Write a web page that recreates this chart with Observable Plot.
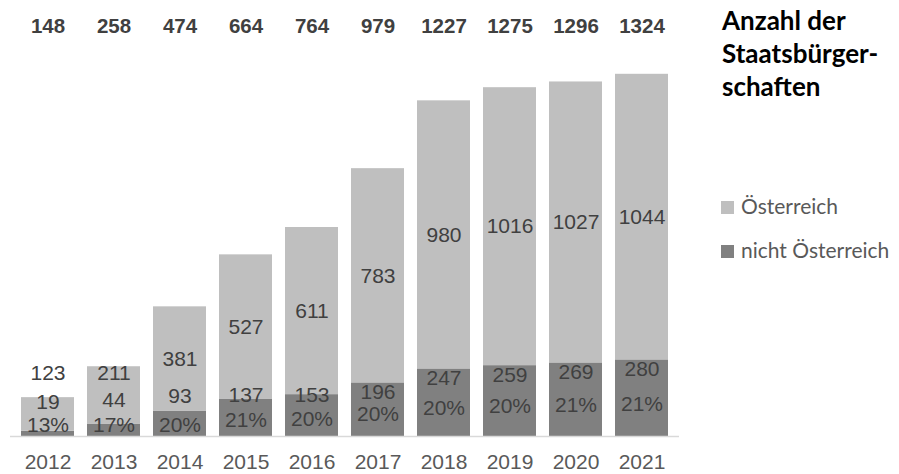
<!DOCTYPE html>
<html>
<head>
<meta charset="utf-8">
<script src="https://cdn.jsdelivr.net/npm/d3@7"></script>
<script src="https://cdn.jsdelivr.net/npm/@observablehq/plot@0.6"></script>
<style>
  body { margin: 0; background: #fff; }
  #wrap { position: relative; width: 899px; height: 474px; overflow: hidden; }
  #chart { position: absolute; left: 0; top: 0; }
  #title { position: absolute; left: 722px; top: 4px; font-family: Lato, "Open Sans", sans-serif; font-weight: bold; font-size: 26px; line-height: 33px; color: #000; }
  .leg { position: absolute; left: 721px; font-family: Lato, "Open Sans", sans-serif; font-size: 21px; line-height: 21px; color: #595959; white-space: nowrap; }
  .leg .sw { display: inline-block; width: 13px; height: 13px; margin-right: 7px; vertical-align: 0px; }
</style>
</head>
<body>
<div id="wrap">
  <div id="chart"></div>
  <div id="title">Anzahl der<br>Staatsbürger-<br>schaften</div>
  <div class="leg" style="top:195px"><span class="sw" style="background:#bfbfbf"></span>Österreich</div>
  <div class="leg" style="top:239px"><span class="sw" style="background:#808080"></span>nicht Österreich</div>
</div>
<script>
const years = ["2012","2013","2014","2015","2016","2017","2018","2019","2020","2021"];
const oesterreich = [123, 211, 381, 527, 611, 783, 980, 1016, 1027, 1044];
const nichtOesterreich = [19, 44, 93, 137, 153, 196, 247, 259, 269, 280];
const anteil = ["13%","17%","20%","21%","20%","20%","20%","20%","21%","21%"];
const totals = [148, 258, 474, 664, 764, 979, 1227, 1275, 1296, 1324];

const rows = [];
years.forEach((y, i) => rows.push({year: y, group: "nicht Österreich", value: nichtOesterreich[i]}));
years.forEach((y, i) => rows.push({year: y, group: "Österreich", value: oesterreich[i]}));

const info = years.map((y, i) => ({
  year: y,
  aut: oesterreich[i],
  non: nichtOesterreich[i],
  pct: anteil[i],
  total: totals[i],
  autY: Math.max(nichtOesterreich[i] + oesterreich[i] / 2, 230),
  nonY: Math.max(nichtOesterreich[i] - 35, 150 - Math.max(0, 100 - nichtOesterreich[i]) * 0.3),
  pctY: Math.max(nichtOesterreich[i] * 0.42, 40)
}));

const font = "'Liberation Sans', Arial, sans-serif";
const chart = Plot.plot({
  width: 899,
  height: 474,
  marginLeft: 10,
  marginRight: 220,
  marginTop: 53,
  marginBottom: 38,
  style: {fontFamily: font, background: "#fff"},
  x: {domain: years, paddingInner: 0.193, paddingOuter: 0.0965, label: null},
  y: {domain: [0, 1400], axis: null},
  color: {domain: ["nicht Österreich", "Österreich"], range: ["#808080", "#bfbfbf"]},
  marks: [
    Plot.barY(rows, {x: "year", y: "value", fill: "group"}),
    Plot.ruleY([0], {stroke: "#d9d9d9", strokeWidth: 1.5}),
    Plot.axisX({tickSize: 0, tickPadding: 18, fontSize: 21, fill: "#595959", label: null}),
    Plot.text(info, {x: "year", y: "autY", text: d => String(d.aut), fontSize: 21, fill: "#404040"}),
    Plot.text(info, {x: "year", y: "nonY", text: d => String(d.non), fontSize: 21, fill: "#404040"}),
    Plot.text(info, {x: "year", y: "pctY", text: "pct", fontSize: 21, fill: "#404040"}),
    Plot.text(info, {x: "year", frameAnchor: "top", dy: -35, text: d => String(d.total), fontSize: 20.5, fontWeight: "bold", fill: "#404040"})
  ]
});
document.getElementById("chart").appendChild(chart);
</script>
</body>
</html>
